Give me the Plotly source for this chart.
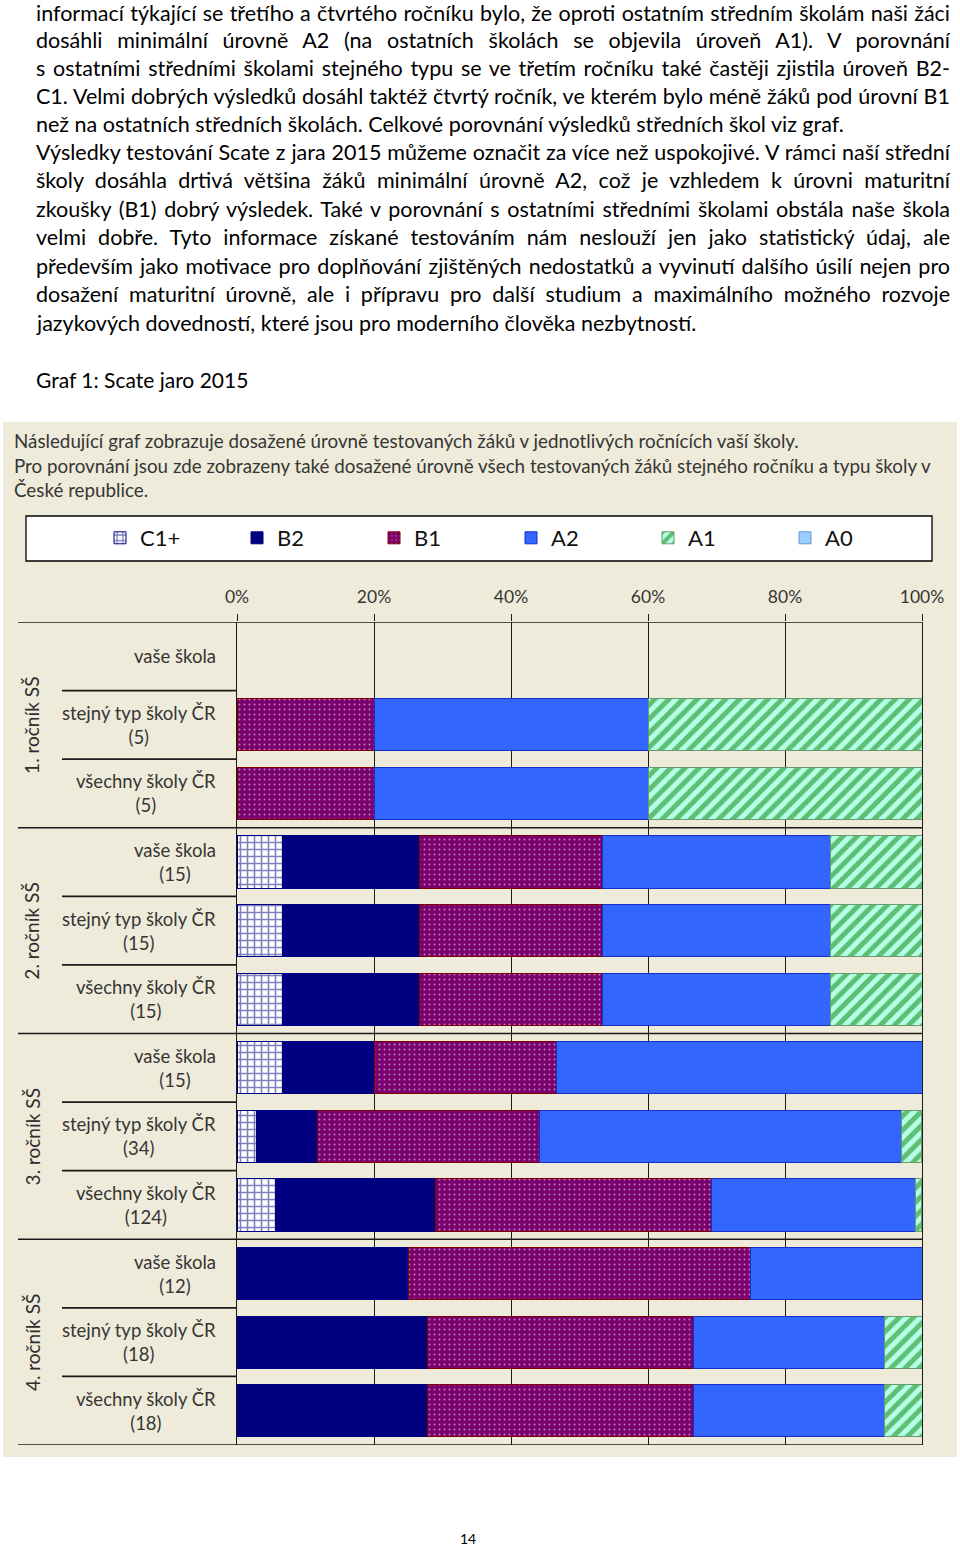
import plotly.graph_objects as go

# ---------------- data ----------------
levels = ["C1+", "B2", "B1", "A2", "A1", "A0"]
row_labels = [
    "vaše škola",
    "stejný typ školy ČR<br>(5)",
    "všechny školy ČR<br>(5)",
    "vaše škola<br>(15)",
    "stejný typ školy ČR<br>(15)",
    "všechny školy ČR<br>(15)",
    "vaše škola<br>(15)",
    "stejný typ školy ČR<br>(34)",
    "všechny školy ČR<br>(124)",
    "vaše škola<br>(12)",
    "stejný typ školy ČR<br>(18)",
    "všechny školy ČR<br>(18)",
]
group_labels = ["1. ročník SŠ", "2. ročník SŠ", "3. ročník SŠ", "4. ročník SŠ"]
c1_vals = [None, None, None, 6.7, 6.7, 6.7, 6.7, 2.9, 5.6, None, None, None]
b2_vals = [None, None, None, 20.0, 20.0, 20.0, 13.3, 8.8, 23.4, 25.0, 27.8, 27.8]
b1_vals = [None, 20.0, 20.0, 26.7, 26.7, 26.7, 26.7, 32.4, 40.3, 50.0, 38.9, 38.9]
a2_vals = [None, 40.0, 40.0, 33.3, 33.3, 33.3, 53.3, 52.9, 29.8, 25.0, 27.8, 27.8]
a1_vals = [None, 40.0, 40.0, 13.3, 13.3, 13.3, None, 2.9, 0.8, None, 5.6, 5.6]
a0_vals = [None, None, None, None, None, None, None, None, None, None, None, None]
tick_vals = [0, 20, 40, 60, 80, 100]
tick_text = ["0%", "20%", "40%", "60%", "80%", "100%"]

page_lines = [
    "informací týkající se třetího a čtvrtého ročníku bylo, že oproti ostatním středním školám naši žáci",
    "dosáhli minimální úrovně A2 (na ostatních školách se objevila úroveň A1). V porovnání",
    "s ostatními středními školami stejného typu se ve třetím ročníku také častěji zjistila úroveň B2-",
    "C1. Velmi dobrých výsledků dosáhl taktéž čtvrtý ročník, ve kterém bylo méně žáků pod úrovní B1",
    "než na ostatních středních školách. Celkové porovnání výsledků středních škol viz graf.",
    "Výsledky testování Scate z jara 2015 můžeme označit za více než uspokojivé. V rámci naší střední",
    "školy dosáhla drtivá většina žáků minimální úrovně A2, což je vzhledem k úrovni maturitní",
    "zkoušky (B1) dobrý výsledek. Také v porovnání s ostatními středními školami obstála naše škola",
    "velmi dobře. Tyto informace získané testováním nám neslouží jen jako statistický údaj, ale",
    "především jako motivace pro doplňování zjištěných nedostatků a vyvinutí dalšího úsilí nejen pro",
    "dosažení maturitní úrovně, ale i přípravu pro další studium a maximálního možného rozvoje",
    "jazykových dovedností, které jsou pro moderního člověka nezbytností.",
]
justified = [True, True, True, True, False, True, True, True, True, True, True, False]
caption = "Graf 1: Scate jaro 2015"
chart_header = [
    "Následující graf zobrazuje dosažené úrovně testovaných žáků v jednotlivých ročnících vaší školy.",
    "Pro porovnání jsou zde zobrazeny také dosažené úrovně všech testovaných žáků stejného ročníku a typu školy v",
    "České republice.",
]
page_number = "14"

# ---------------- geometry helpers ----------------
W, H = 960, 1548
ML, MR, MT, MB = 237, 38, 622, 103
PW = W - ML - MR
PH = H - MT - MB


def px_x(x):
    return (x - ML) / PW


def px_y(y):
    return (H - MB - y) / PH


rows = list(range(len(row_labels)))

styles = {
    "C1+": dict(color="#FFFFFF", line="#000080",
                pattern=dict(shape="+", fgcolor="#000080", bgcolor="#FFFFFF", size=7, solidity=0.4)),
    "B2": dict(color="#000080", line="#000080", pattern=None),
    "B1": dict(color="#7A006E", line="#800000",
               pattern=dict(shape=".", fgcolor="#FFFFFF", bgcolor="#7A006E", size=5, solidity=0.12)),
    "A2": dict(color="#3366FF", line="#1530C8", pattern=None),
    "A1": dict(color="#B8FFE8", line="#6A9A6A",
               pattern=dict(shape="/", fgcolor="#008000", bgcolor="#B8FFE8", size=10, solidity=0.5)),
    "A0": dict(color="#99CCFF", line="#6699CC", pattern=None),
}
series = [c1_vals, b2_vals, b1_vals, a2_vals, a1_vals, a0_vals]

fig = go.Figure()
for name, vals in zip(levels, series):
    st = styles[name]
    marker = dict(color=st["color"], line=dict(color=st["line"], width=1))
    if st["pattern"]:
        marker["pattern"] = st["pattern"]
    fig.add_trace(go.Bar(
        name=name, x=vals, y=rows, orientation="h", marker=marker,
        hoverinfo="skip",
    ))

FONT = "Lato"
TXT = "#363636"

shapes = []
# beige chart panel
shapes.append(dict(type="rect", xref="paper", yref="paper", layer="below",
                   x0=px_x(3), x1=px_x(957), y0=px_y(1457), y1=px_y(422),
                   fillcolor="#EFEBDA", line=dict(width=0)))
# legend box
shapes.append(dict(type="rect", xref="paper", yref="paper", layer="below",
                   x0=px_x(26), x1=px_x(932), y0=px_y(561), y1=px_y(516),
                   fillcolor="#FFFFFF", line=dict(color="#000000", width=1.3)))
# group separators (full width)
for yb in [-0.5, 2.5, 5.5, 8.5, 11.5]:
    shapes.append(dict(type="line", xref="paper", yref="y",
                       x0=px_x(18), x1=1, y0=yb, y1=yb,
                       line=dict(color="#1A1A1A", width=1.6)))
# row separators inside label column
for yb in [0.5, 1.5, 3.5, 4.5, 6.5, 7.5, 9.5, 10.5]:
    shapes.append(dict(type="line", xref="paper", yref="y",
                       x0=px_x(62), x1=0, y0=yb, y1=yb,
                       line=dict(color="#1A1A1A", width=1.6)))

annotations = []
page_y = [13, 40, 68, 96, 124, 152, 180, 209, 237, 266, 294, 323]
for t, yy in zip(page_lines, page_y):
    annotations.append(dict(text=t, xref="paper", yref="paper", x=px_x(34), y=px_y(yy),
                            xanchor="left", yanchor="middle", align="left", showarrow=False,
                            font=dict(family=FONT, size=21.5, color="#000000")))
justify_idx = [i for i, j in enumerate(justified) if j]
annotations.append(dict(text=caption, xref="paper", yref="paper", x=px_x(34), y=px_y(379),
                        xanchor="left", yanchor="middle", align="left", showarrow=False,
                        font=dict(family=FONT, size=21, color="#000000")))
for t, yy in zip(chart_header, [440, 465, 490]):
    annotations.append(dict(text=t, xref="paper", yref="paper", x=px_x(12), y=px_y(yy),
                            xanchor="left", yanchor="middle", align="left", showarrow=False,
                            font=dict(family=FONT, size=18.8, color=TXT)))
for i, t in enumerate(row_labels):
    annotations.append(dict(text=t, xref="paper", yref="y", x=px_x(218), y=i,
                            xanchor="right", yanchor="middle", align="center", showarrow=False,
                            font=dict(family=FONT, size=18.5, color=TXT)))
for g, t in enumerate(group_labels):
    annotations.append(dict(text=t, xref="paper", yref="y", x=px_x(32), y=3 * g + 1,
                            xanchor="center", yanchor="middle", textangle=-90, showarrow=False,
                            font=dict(family=FONT, size=19, color="#2E2E2E")))
annotations.append(dict(text=page_number, xref="paper", yref="paper", x=px_x(468), y=px_y(1538),
                        xanchor="center", yanchor="middle", showarrow=False,
                        font=dict(family=FONT, size=14, color="#000000")))

fig.update_layout(
    width=W, height=H,
    margin=dict(l=ML, r=MR, t=MT, b=MB, pad=0),
    paper_bgcolor="#FFFFFF",
    plot_bgcolor="rgba(0,0,0,0)",
    barmode="stack",
    bargap=0.24,
    showlegend=True,
    legend=dict(orientation="h", x=px_x(100), y=px_y(538), xanchor="left", yanchor="middle",
                traceorder="normal", bgcolor="rgba(0,0,0,0)", borderwidth=0,
                entrywidth=92, entrywidthmode="pixels",
                font=dict(family=FONT, size=22, color="#111111")),
    xaxis=dict(side="top", range=[0, 100], tickvals=tick_vals, ticktext=tick_text,
               showgrid=True, gridcolor="#1A1A1A", gridwidth=1, zeroline=False,
               showline=False, ticks="outside", ticklen=7, tickcolor="#1A1A1A", tickwidth=1,
               ticklabelstandoff=4,
               tickfont=dict(family=FONT, size=17.5, color=TXT), fixedrange=True),
    yaxis=dict(range=[11.5, -0.5], showticklabels=False, showgrid=False, zeroline=False,
               showline=True, mirror=True, linecolor="#1A1A1A", linewidth=1.3,
               ticks="", fixedrange=True),
    shapes=shapes,
    annotations=annotations,
)

post = """
document.body.style.margin='0';
document.body.style.overflow='hidden';
var gd=document.getElementById('{plot_id}');
var idx=%s;
idx.forEach(function(i){
  var t=gd.querySelector('g.annotation[data-index="'+i+'"] text.annotation-text');
  if(!t) return;
  var w=t.getComputedTextLength();
  var n=(t.textContent.match(/ /g)||[]).length;
  if(n>0){ t.style.wordSpacing=((914-w)/n)+'px'; }
});
""" % str(justify_idx)

fig.write_html("out.html", post_script=post, config={"displayModeBar": False})
